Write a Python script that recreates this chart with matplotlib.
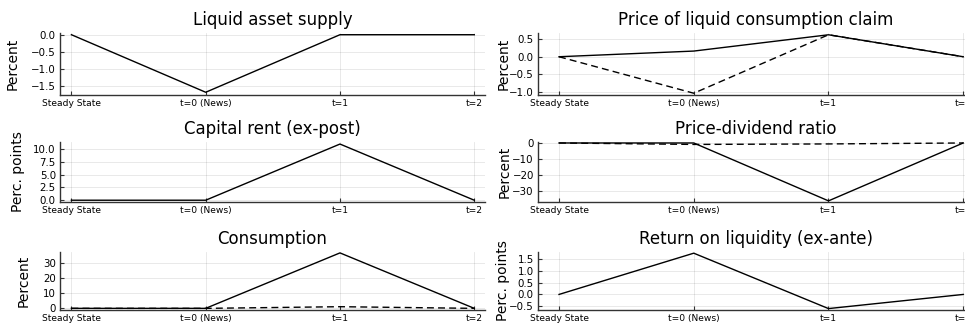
import matplotlib
matplotlib.use('Agg')
import matplotlib.pyplot as plt

# ── data ────────────────────────────────────────────────────────
periods = ["Steady State", "t=0 (News)", "t=1", "t=2"]
x = [0, 1, 2, 3]

liquid_supply = [0.0, -1.68, 0.0, 0.0]

price_claim = [0.0, 0.16, 0.62, 0.0]
price_claim_alt = [0.0, -1.03, 0.62, 0.0]

capital_rent = [0.0, 0.0, 11.0, 0.0]

pd_ratio = [0.0, 0.0, -35.8, 0.0]
pd_ratio_alt = [0.0, -0.9, -0.6, 0.0]

consumption = [0.0, 0.0, 37.0, 0.0]
consumption_alt = [0.0, 0.0, 1.1, 0.0]

ret_liquidity = [0.0, 1.75, -0.6, 0.0]

W, H = 965, 331
fig = plt.figure(figsize=(W / 100, H / 100), dpi=100)


def make_ax(left, top, right, bottom):
    return fig.add_axes([left / W, 1 - bottom / H, (right - left) / W, (bottom - top) / H])


def style(ax, title, ylabel, ylim, yticks, yticklabels, xlo, label_px):
    ax.set_xlim(xlo, 3.08)
    ax.set_ylim(*ylim)
    ax.set_xticks(x)
    ax.set_xticklabels(periods, fontsize=6.6)
    ax.set_yticks(yticks)
    ax.set_yticklabels(yticklabels, fontsize=7.4)
    ax.set_title(title, fontsize=12, pad=6)
    ax.set_ylabel(ylabel, fontsize=10)
    # y label placed in pixels left of the spine
    bb = ax.get_position()
    ax.yaxis.set_label_coords(label_px / (bb.width * W), 0.5)
    ax.grid(True, color='black', alpha=0.1, linewidth=0.6)
    ax.set_axisbelow(True)
    for s in ('top', 'right'):
        ax.spines[s].set_visible(False)
    for s in ('left', 'bottom'):
        ax.spines[s].set_color('#333333')
        ax.spines[s].set_linewidth(1.0)
    ax.tick_params(direction='in', length=3, width=0.8, color='#333333', pad=3)


def neg(v, fmt):
    return fmt.format(v).replace('-', '\u2212')


DASH = (0, (5, 3))
L = (60, 485)
R = (538, 974)
rows = [(33, 95), (142, 202), (252, 310)]

# left column
ax = make_ax(L[0], rows[0][0], L[1], rows[0][1])
ax.plot(x, liquid_supply, color='black', lw=1.0)
t = [0.0, -0.5, -1.0, -1.5]
style(ax, "Liquid asset supply", "Percent", (-1.76, 0.05), t,
      [neg(v, "{:.1f}") for v in t], -0.085, -40)

ax = make_ax(L[0], rows[1][0], L[1], rows[1][1])
ax.plot(x, capital_rent, color='black', lw=1.0)
t = [0.0, 2.5, 5.0, 7.5, 10.0]
style(ax, "Capital rent (ex-post)", "Perc. points", (-0.35, 11.4), t,
      [neg(v, "{:.1f}") for v in t], -0.085, -35)

ax = make_ax(L[0], rows[2][0], L[1], rows[2][1])
ax.plot(x, consumption_alt, color='black', lw=1.0, ls=DASH)
ax.plot(x, consumption, color='black', lw=1.0)
t = [0, 10, 20, 30]
style(ax, "Consumption", "Percent", (-1.1, 37.6), t,
      [neg(v, "{:d}") for v in t], -0.085, -29)

# right column
ax = make_ax(R[0], rows[0][0], R[1], rows[0][1])
ax.plot(x, price_claim_alt, color='black', lw=1.0, ls=DASH)
ax.plot(x, price_claim, color='black', lw=1.0)
t = [0.5, 0.0, -0.5, -1.0]
style(ax, "Price of liquid consumption claim", "Percent", (-1.08, 0.67), t,
      [neg(v, "{:.1f}") for v in t], -0.156, -27)

ax = make_ax(R[0], rows[1][0], R[1], rows[1][1])
ax.plot(x, pd_ratio_alt, color='black', lw=1.0, ls=DASH)
ax.plot(x, pd_ratio, color='black', lw=1.0)
t = [0, -10, -20, -30]
style(ax, "Price-dividend ratio", "Percent", (-36.5, 0.6), t,
      [neg(v, "{:d}") for v in t], -0.156, -26)

ax = make_ax(R[0], rows[2][0], R[1], rows[2][1])
ax.plot(x, ret_liquidity, color='black', lw=1.0)
t = [1.5, 1.0, 0.5, 0.0, -0.5]
style(ax, "Return on liquidity (ex-ante)", "Perc. points", (-0.66, 1.8), t,
      [neg(v, "{:.1f}") for v in t], -0.156, -28)

fig.savefig("out.png", dpi=100)
